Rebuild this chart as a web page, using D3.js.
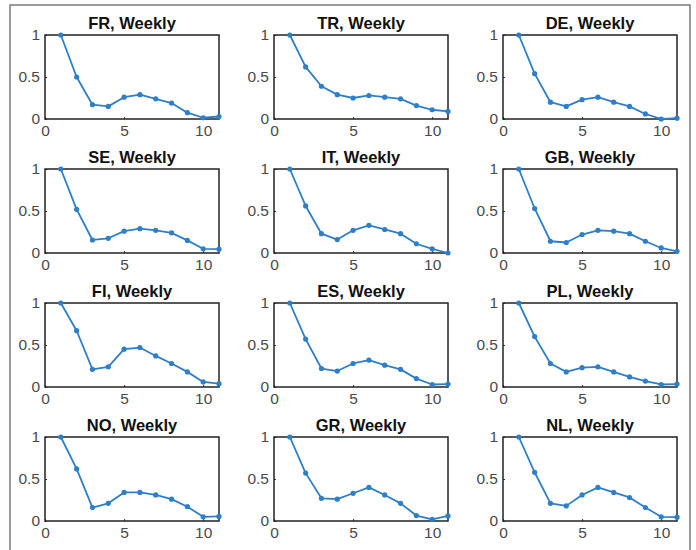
<!DOCTYPE html>
<html>
<head>
<meta charset="utf-8">
<script src="https://cdn.jsdelivr.net/npm/d3@7"></script>
<style>
  html, body { margin: 0; padding: 0; background: #fff; }
  svg { display: block; }
  .title { font-family: "Liberation Sans", Arial, sans-serif; font-weight: bold; font-size: 16.5px; fill: #111; }
  .tick text { font-family: "Liberation Sans", Arial, sans-serif; font-size: 15.5px; fill: #4a4a4a; }
</style>
</head>
<body>
<script>
// Lags on the x axis (weeks)
const lags = [1, 2, 3, 4, 5, 6, 7, 8, 9, 10, 11];

// Country panels, in reading order
const countries = ["FR", "TR", "DE", "SE", "IT", "GB", "FI", "ES", "PL", "NO", "GR", "NL"];

// Normalised weekly profile per country
const FR = [1.00, 0.50, 0.17, 0.15, 0.26, 0.29, 0.24, 0.19, 0.075, 0.015, 0.03];
const TR = [1.00, 0.62, 0.39, 0.29, 0.25, 0.28, 0.26, 0.24, 0.16, 0.11, 0.09];
const DE = [1.00, 0.54, 0.20, 0.15, 0.23, 0.26, 0.20, 0.15, 0.06, 0.00, 0.01];
const SE = [1.00, 0.52, 0.155, 0.175, 0.26, 0.29, 0.27, 0.24, 0.15, 0.05, 0.045];
const IT = [1.00, 0.56, 0.23, 0.16, 0.27, 0.33, 0.28, 0.23, 0.11, 0.05, 0.00];
const GB = [1.00, 0.53, 0.14, 0.125, 0.22, 0.27, 0.26, 0.23, 0.14, 0.06, 0.02];
const FI = [1.00, 0.67, 0.21, 0.24, 0.45, 0.47, 0.37, 0.28, 0.18, 0.06, 0.04];
const ES = [1.00, 0.57, 0.22, 0.19, 0.28, 0.32, 0.26, 0.21, 0.10, 0.03, 0.035];
const PL = [1.00, 0.60, 0.28, 0.18, 0.23, 0.24, 0.18, 0.12, 0.07, 0.03, 0.035];
const NO = [1.00, 0.62, 0.16, 0.21, 0.34, 0.34, 0.31, 0.26, 0.17, 0.05, 0.055];
const GR = [1.00, 0.57, 0.27, 0.26, 0.33, 0.40, 0.31, 0.21, 0.065, 0.02, 0.06];
const NL = [1.00, 0.58, 0.21, 0.18, 0.31, 0.40, 0.34, 0.28, 0.16, 0.05, 0.045];

const seriesByCountry = { FR, TR, DE, SE, IT, GB, FI, ES, PL, NO, GR, NL };

// Axis ticks and limits
const xTicks = [0, 5, 10];
const yTicks = [0, 0.5, 1];
const xDomain = [0, 11];
const yDomain = [0, 1];
const titleSuffix = ", Weekly";

const W = 696, H = 550;
const svg = d3.select("body").append("svg").attr("width", W).attr("height", H);

// Outer figure frame
svg.append("rect")
  .attr("x", 10).attr("y", 5)
  .attr("width", 680).attr("height", 560)
  .attr("fill", "none").attr("stroke", "#7a7a7a").attr("stroke-width", 1.5);

const colLeft = [45, 274, 503];
const rowTop = [35, 169, 303, 437];
const pw = 174, ph = 84;
const lineColor = "#2e7fc8";

countries.forEach((c, i) => {
  const col = i % 3, row = Math.floor(i / 3);
  const g = svg.append("g")
    .attr("transform", `translate(${colLeft[col]},${rowTop[row]})`);

  const x = d3.scaleLinear().domain(xDomain).range([0, pw]);
  const y = d3.scaleLinear().domain(yDomain).range([ph, 0]);

  const xAxis = g.append("g")
    .attr("transform", `translate(0,${ph})`)
    .call(d3.axisBottom(x).tickValues(xTicks).tickFormat(d3.format("")).tickSizeInner(-2).tickSizeOuter(0).tickPadding(6));
  const yAxis = g.append("g")
    .call(d3.axisLeft(y).tickValues(yTicks).tickFormat(d3.format("")).tickSizeInner(-2).tickSizeOuter(0).tickPadding(5));
  [xAxis, yAxis].forEach(a => {
    a.select(".domain").remove();
    a.selectAll(".tick line").attr("stroke", "#333");
  });

  // Box around the axes
  g.append("rect")
    .attr("x", 0).attr("y", 0).attr("width", pw).attr("height", ph)
    .attr("fill", "none").attr("stroke", "#222").attr("stroke-width", 1.5);

  g.append("text")
    .attr("class", "title")
    .attr("x", pw / 2).attr("y", -6)
    .attr("text-anchor", "middle")
    .text(c + titleSuffix);

  const vals = seriesByCountry[c];
  const pts = lags.map((l, k) => [l, vals[k]]);

  g.append("path")
    .datum(pts)
    .attr("fill", "none")
    .attr("stroke", lineColor)
    .attr("stroke-width", 1.8)
    .attr("stroke-linejoin", "round")
    .attr("d", d3.line().x(d => x(d[0])).y(d => y(d[1])));

  g.selectAll("circle.pt")
    .data(pts)
    .join("circle")
    .attr("class", "pt")
    .attr("cx", d => x(d[0]))
    .attr("cy", d => y(d[1]))
    .attr("r", 2.6)
    .attr("fill", lineColor);
});
</script>
</body>
</html>
